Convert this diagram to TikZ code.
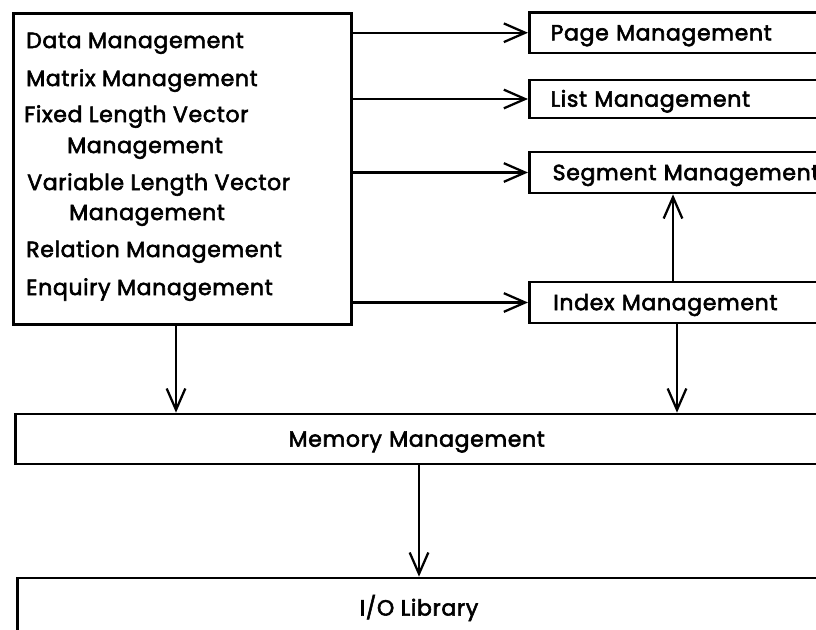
\documentclass[tikz,border=0pt]{standalone}
\usepackage{fontspec}
\setmainfont{Poppins}[FakeBold=2.6, LetterSpace=3]
\usetikzlibrary{arrows.meta}

\tikzset{
  box/.style={draw, line width=2pt, inner sep=0pt},
  rbox/.style={box, anchor=west, align=left, text width=280pt,
    inner xsep=#1, text height=11.5pt, text depth=0pt},
  item/.style={anchor=base west, inner sep=0pt},
  arr/.style={line width=1.7pt, -{Straight Barb[length=16pt, width=14pt]}},
}

\begin{document}
\begin{tikzpicture}[x=0.75pt, y=-0.75pt, font=\fontsize{16.5}{19}\selectfont]
  \clip (0,0) rectangle (816,629);

  % left block of client modules
  \node[box, anchor=north west, minimum width=253.5pt, minimum height=233.25pt] (main) at (12,12) {};
  \node[item] (l1) at (26,48)  {Data Management};
  \node[item] (l2) at (26,86)  {Matrix Management};
  \node[item] (l3) at (24,122) {Fixed Length Vector};
  \node[item] (l4) at (67,153) {Management};
  \node[item] (l5) at (27,190) {Variable Length Vector};
  \node[item] (l6) at (69,220) {Management};
  \node[item] (l7) at (26,257) {Relation Management};
  \node[item] (l8) at (26,295) {Enquiry Management};

  % right column of managers
  \node[rbox=16pt,   minimum height=30.4pt]  (page) at (528,32.75) {Page Management};
  \node[rbox=16pt,   minimum height=28.5pt]  (list) at (528,99)    {List Management};
  \node[rbox=17.5pt, minimum height=30.75pt] (seg)  at (528,172.5) {Segment Management};
  \node[rbox=18pt,   minimum height=30.75pt] (idx)  at (528,302.5) {Index Management};

  % lower layers
  \node[rbox=205pt, minimum height=37.5pt] (mem) at (14,439) {Memory Management};
  \node[rbox=250pt, minimum height=60pt] (io) at (16,618) {};
  \node[item, anchor=center] (iotxt) at (419,608) {I/O Library};

  % drop points of the vertical connectors
  \coordinate (dmain) at (176,0);
  \coordinate (didx)  at (677,0);
  \coordinate (uidx)  at (673,0);
  \coordinate (dmem)  at (419,0);

  % connectors
  \draw[arr] (main.east |- page.west) -- (page.west);
  \draw[arr] (main.east |- list.west) -- (list.west);
  \draw[arr] (main.east |- seg.west)  -- (seg.west);
  \draw[arr] (main.east |- idx.west)  -- (idx.west);
  \draw[arr] (idx.north -| uidx) -- (seg.south -| uidx);
  \draw[arr] (main.south -| dmain) -- (mem.north -| dmain);
  \draw[arr] (idx.south -| didx) -- (mem.north -| didx);
  \draw[arr] (mem.south -| dmem) -- (io.north -| dmem);
\end{tikzpicture}
\end{document}
